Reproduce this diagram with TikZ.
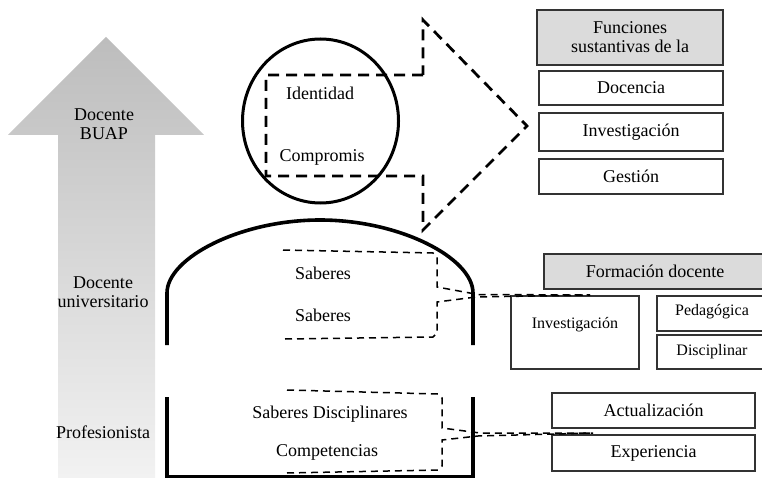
\documentclass[tikz,border=0pt]{standalone}
\usepackage{fontspec}
\setmainfont{Liberation Serif}
\begin{document}
\begin{tikzpicture}[x=1pt,y=-1pt,
  box/.style={draw=black!80,line width=1.4pt,inner sep=0pt,font=\fontsize{18}{19}\selectfont},
  graybox/.style={box,fill=gray!28},
  lbl/.style={inner sep=0pt,align=center,font=\fontsize{18}{19}\selectfont},
  slbl/.style={inner sep=0pt,align=center,font=\fontsize{16}{18}\selectfont},
  bigdash/.style={line width=2.8pt,dash pattern=on 11pt off 7pt,miter limit=10},
  thindash/.style={line width=1.5pt,dash pattern=on 7pt off 5pt},
  bodyline/.style={line width=3.6pt}]
\useasboundingbox (0,0) rectangle (762,478);
\clip (0,0) rectangle (762,478);
% big gradient arrow
\shade[top color=gray!52,bottom color=gray!10]
  (58,480) -- (58,135) -- (8,135) -- (106,37) -- (204,135) -- (155,135) -- (155,480) -- cycle;
\node[lbl] (buap) at (104,124) {Docente\\BUAP};
\node[lbl] (univ) at (103,292) {Docente\\universitario};
\node[lbl] (prof) at (103,432) {Profesionista};
% head
\draw[line width=3pt] (320.5,121) ellipse [x radius=78, y radius=82];
% dashed big arrow
\draw[bigdash] (423,75) -- (266,75) -- (266,176) -- (423,176) -- (423,230) -- (527,126) -- (423,20) -- cycle;
\node[lbl] (ident) at (320,93) {Identidad};
\node[lbl] (comp) at (322,157) {Compromis};
% body
\draw[bodyline] (167,345) -- (167,293) .. controls (167,258) and (240,220) .. (320,220)
  .. controls (400,220) and (473,258) .. (473,293) -- (473,345);
\draw[bodyline] (167,397) -- (167,477) -- (473,477) -- (473,397);
% labels in body
\node[lbl] (sab1) at (323,273) {Saberes};
\node[lbl] (sab2) at (323,315) {Saberes};
\node[lbl] (sabd) at (330,414) {Saberes Disciplinares};
\node[lbl] (compet) at (327,452) {Competencias};
% top right boxes
\node[graybox,minimum width=186pt,minimum height=55pt,align=center] (fun) at (630,37.5) {Funciones\\sustantivas de la};
\node[box,minimum width=184pt,minimum height=34pt] (doc) at (631,88) {Docencia};
\node[box,minimum width=184pt,minimum height=38pt] (inv) at (631,132) {Investigación};
\node[box,minimum width=184pt,minimum height=35pt] (ges) at (631,176.5) {Gestión};
% formacion docente
\node[graybox,minimum width=226pt,minimum height=35pt] (form) at (657,271.5) {};
\node[lbl] (formt) at (655,271.5) {Formación docente};
\node[box,minimum width=128pt,minimum height=73pt] (inv2) at (575,332.5) {};
\node[slbl] (inv2t) at (575,325) {Investigación};
\node[box,minimum width=113pt,minimum height=35pt] (ped) at (713.5,313.5) {};
\node[slbl] (pedt) at (712,312) {Pedagógica};
\node[box,minimum width=113pt,minimum height=34pt] (dis) at (713.5,352) {};
\node[slbl] (dist) at (712,352) {Disciplinar};
\node[box,minimum width=203pt,minimum height=35pt] (act) at (653.5,410.5) {Actualización};
\node[box,minimum width=203pt,minimum height=36pt] (exp) at (653.5,453) {Experiencia};
% thin dashed braces
\coordinate (j1) at (478,294.5);
\coordinate (e1) at (590,295);
\draw[thindash] (283,250) -- (433,253) -- (437,257) -- (437,287) -- (j1) -- (e1);
\draw[thindash] (285,339) -- (433,337) -- (437,333) -- (437,302) -- (476,297) -- (e1);
\coordinate (j2) at (480,433);
\coordinate (e2) at (593,433);
\draw[thindash] (287,390) -- (438,394) -- (442,398) -- (442,428) -- (j2) -- (e2);
\draw[thindash] (287,473) -- (438,470) -- (442,466) -- (442,440) -- (478,436) -- (e2);
\end{tikzpicture}
\end{document}
